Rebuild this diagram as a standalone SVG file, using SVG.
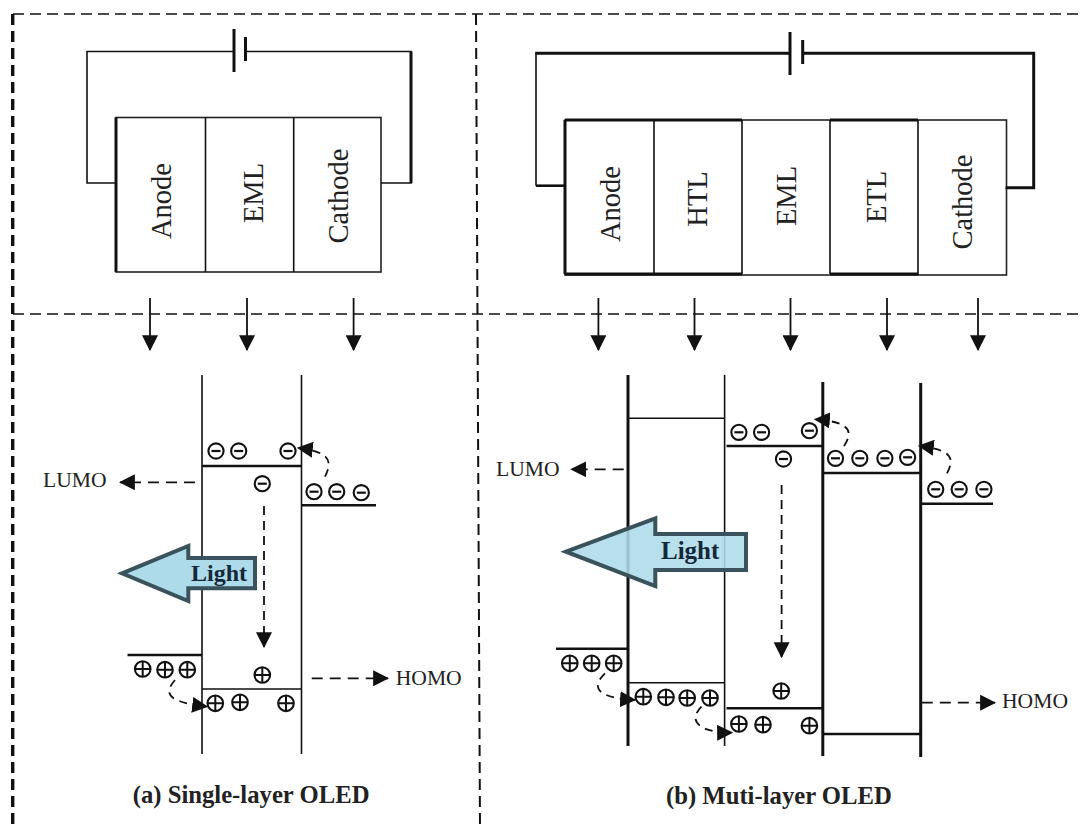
<svg xmlns="http://www.w3.org/2000/svg" width="1084" height="830" viewBox="0 0 1084 830">
<style>
.w{fill:none;stroke:#111;stroke-width:1.6}
.wt{fill:none;stroke:#111;stroke-width:3}
.b{fill:none;stroke:#111;stroke-width:2.6}
.box{fill:#fff;stroke:#222;stroke-width:1.6}
.fr{fill:none;stroke:#111;stroke-width:1.5;stroke-dasharray:11 6}
.frv{fill:none;stroke:#111;stroke-width:3.4;stroke-dasharray:11 6}
.d{fill:none;stroke:#111;stroke-width:2;stroke-dasharray:11 6}
.arr{fill:none;stroke:#111;stroke-width:1.8;marker-end:url(#h)}
.lt{fill:#aedbe9;stroke:#3a525c;stroke-width:4;stroke-linejoin:miter}
text{font-family:"Liberation Serif","Times New Roman",serif;fill:#222}
.v{font-size:28.5px;text-anchor:middle}
.l{font-size:21.6px}
.ttl{font-size:24.7px;font-weight:bold}
.lg{font-size:25px;font-weight:bold;fill:#14283a}
.c{fill:none;stroke:#111;stroke-width:2.1}
</style>
<defs>
<marker id="h" markerUnits="userSpaceOnUse" markerWidth="16" markerHeight="16" refX="13" refY="7" orient="auto" viewBox="0 0 14 14"><path d="M0 0L14 7L0 14Z" fill="#111"/></marker>
<g id="m"><circle class="c" r="7.6"/><path d="M-4.5 0H4.5" stroke="#111" stroke-width="2.2"/></g>
<g id="p"><circle class="c" r="7.8"/><path d="M-7.5 0H7.5M0-7.5V7.5" stroke="#111" stroke-width="2"/></g>
</defs>
<rect width="1084" height="830" fill="#fff"/>

<g id="frame">
<path class="fr" d="M13 14H1084M13 314H1084"/>
<path class="frv" d="M12.7 14V830"/>
<path class="d" d="M476 14L480 830"/>
</g>

<g id="device-a">
<rect class="box" x="116" y="117.5" width="265" height="154.5"/>
<path class="w" d="M205.5 117.5V272M293.7 117.5V272"/>
<path class="wt" d="M116 117.5V272"/>
<text class="v" transform="translate(171 201) rotate(-90)">Anode</text>
<text class="v" transform="translate(263 193) rotate(-90)">EML</text>
<text class="v" transform="translate(348 196) rotate(-90)">Cathode</text>
</g>
<g id="battery-a"><path class="wt" d="M234 29V72M245.5 37V61"/></g>

<g id="device-b">
<rect class="box" x="565" y="120" width="441.5" height="155"/>
<path class="wt" d="M565 120V274M565 120H742M565 274H742M830 120H918M830 274H918"/>
<path class="w" d="M654 120V274M742 120V274M830 120V274M918 120V275"/>
<text class="v" transform="translate(620 204) rotate(-90)">Anode</text>
<text class="v" transform="translate(707 199) rotate(-90)">HTL</text>
<text class="v" transform="translate(796 196) rotate(-90)">EML</text>
<text class="v" transform="translate(886 197) rotate(-90)">ETL</text>
<text class="v" transform="translate(972 202) rotate(-90)">Cathode</text>
</g>
<g id="battery-b"><path class="wt" d="M790 32V75M802.7 40V64"/></g>

<g id="bands-a">
<path class="w" d="M202 375V754M301.5 375V754M202 689H301.5"/>
<path class="b" d="M202 466H301.5M301.5 505.3H376M127.5 655H202"/>
</g>
<g id="bands-b">
<path class="wt" d="M628 375V746M822.8 382V756M920.7 383V757"/>
<path class="w" d="M724.6 375V746M628 418.3H724.6M628 682.7H724.6"/>
<path class="b" d="M726.5 446H822.8M822.8 473H920.7M920.7 503.7H993M556 648.7H628M726.5 708.3H822.8M822.8 734H920.7"/>
</g>

<g id="connectors">
<path class="w" d="M116 183H87V51.5H234M245.5 51.5H411V183H381"/>
<path class="wt" d="M411 51.5V183"/>
<path class="w" d="M536 53.3V185.7"/>
<path class="b" d="M565 185.7H536"/>
<path class="wt" d="M535.2 53.3H790M802.7 53.3H1033.7V187.7H1005.6"/>
<path class="arr" d="M150 298V350"/><path class="arr" d="M247 298V350"/><path class="arr" d="M353.6 298V350"/>
<path class="arr" d="M598.4 298V350"/><path class="arr" d="M694.5 298V350"/><path class="arr" d="M790.5 298V350"/><path class="arr" d="M887 298V350"/><path class="arr" d="M978 298V350"/>
<path class="arr" style="stroke-dasharray:11 7" d="M195 482.3H120"/>
<path class="arr" style="stroke-dasharray:11 7" d="M311.7 678.3H388"/>
<path class="arr" style="stroke-dasharray:9 6" d="M264 506V647"/>
<path class="arr" style="stroke-dasharray:8 6" d="M325 476.7C332 462 332 452 298 448"/>
<path class="arr" style="stroke-dasharray:8 6" d="M175 680C162 695 170 702 207 706.7"/>
<path class="arr" style="stroke-dasharray:11 7" d="M623.7 469.3H571.3"/>
<path class="arr" style="stroke-dasharray:11 7" d="M921.8 702.7H995"/>
<path class="arr" style="stroke-dasharray:9 6" d="M781.6 485V657"/>
<path class="arr" style="stroke-dasharray:8 6" d="M844 446C853 432 852 422 815 419.3"/>
<path class="arr" style="stroke-dasharray:8 6" d="M947 473.3C955 458 952 450 919 446"/>
<path class="arr" style="stroke-dasharray:8 6" d="M605 673.3C590 688 598 698 635 700"/>
<path class="arr" style="stroke-dasharray:8 6" d="M701.5 706.7C686 722 702 733 732 732.7"/>
</g>

<g id="charges-a">
<use href="#m" x="216" y="451"/><use href="#m" x="238.7" y="451"/><use href="#m" x="288" y="451"/><use href="#m" x="262.3" y="483.7"/><use href="#m" x="314" y="491.7"/><use href="#m" x="336.7" y="491.7"/><use href="#m" x="361.3" y="492.7"/>
<use href="#p" x="142.7" y="669"/><use href="#p" x="165" y="669.7"/><use href="#p" x="187.3" y="669.7"/><use href="#p" x="262.3" y="675"/><use href="#p" x="215.3" y="703.3"/><use href="#p" x="240" y="702.3"/><use href="#p" x="286" y="703.3"/>
</g>
<g id="charges-b">
<use href="#m" x="738.9" y="432.3"/><use href="#m" x="761.6" y="432.3"/><use href="#m" x="809.4" y="430.7"/><use href="#m" x="783.5" y="459"/><use href="#m" x="835.5" y="458.3"/><use href="#m" x="859.8" y="458.3"/><use href="#m" x="884.9" y="458.3"/><use href="#m" x="907.6" y="457.3"/><use href="#m" x="935.7" y="489.3"/><use href="#m" x="959.2" y="489.3"/><use href="#m" x="983.9" y="489.3"/>
<use href="#p" x="569.8" y="663.3"/><use href="#p" x="591.7" y="663.3"/><use href="#p" x="613.7" y="663.3"/><use href="#p" x="643.3" y="696.7"/><use href="#p" x="666" y="697.3"/><use href="#p" x="687.2" y="698"/><use href="#p" x="710" y="698"/><use href="#p" x="781.2" y="691"/><use href="#p" x="738.9" y="724"/><use href="#p" x="763" y="724.7"/><use href="#p" x="809.4" y="725.7"/>
</g>

<g id="light-a">
<path class="lt" d="M122 573.3L188.3 546V558H255V588.3H188.3V601Z"/>
<text class="lg" x="191" y="581" style="font-size:24px">Light</text>
</g>
<g id="light-b">
<path class="lt" style="fill-opacity:.88" d="M566 551.7L655.3 518.5V534H746V570H655.3V586Z"/>
<text class="lg" x="661" y="559">Light</text>
</g>

<g id="labels">
<text class="l" x="43" y="486.7">LUMO</text>
<text class="l" x="395.7" y="685">HOMO</text>
<text class="l" x="496" y="476">LUMO</text>
<text class="l" x="1002" y="708">HOMO</text>
<text class="ttl" x="132.7" y="802.7">(a) Single-layer OLED</text>
<text class="ttl" x="666" y="804.3">(b) Muti-layer OLED</text>
</g>
</svg>
